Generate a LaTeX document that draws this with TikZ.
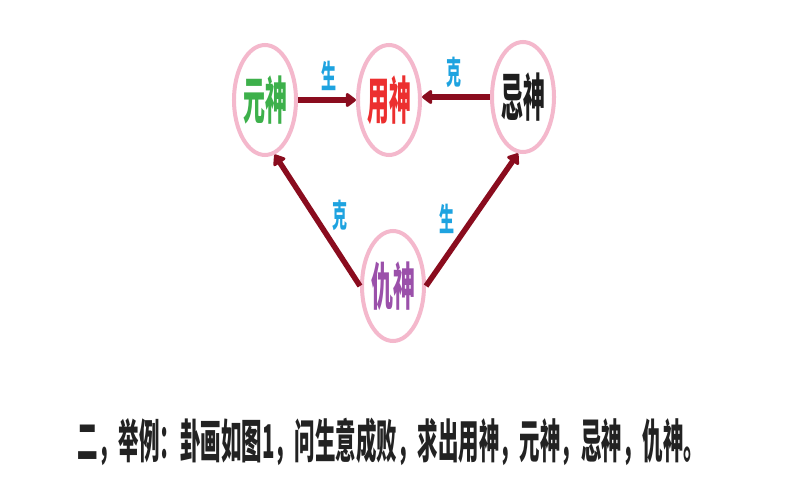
\documentclass[tikz,border=0pt]{standalone}
\usepackage{fontspec}
\usetikzlibrary{shapes.geometric,arrows.meta}
\newfontfamily\cjknode[FakeStretch=0.43]{Noto Sans CJK SC}
\newfontfamily\cjklab[FakeStretch=0.47]{Noto Sans CJK SC}
\newfontfamily\cjkbot[FakeStretch=0.44]{Noto Sans CJK SC}
\definecolor{ringpink}{HTML}{F4B8CC}
\definecolor{arrred}{HTML}{8A0C1E}
\definecolor{labblue}{HTML}{1EA3E0}
\definecolor{yuangreen}{HTML}{3DB04B}
\definecolor{yongred}{HTML}{EC2F2F}
\definecolor{jiblack}{HTML}{1E1E1E}
\definecolor{choupurple}{HTML}{9B50AA}
\definecolor{bottext}{HTML}{222222}
\begin{document}
\begin{tikzpicture}[x=1pt,y=-1pt,
  god/.style={ellipse,draw=ringpink,line width=4pt,fill=white,inner sep=0pt,
    minimum width=58pt,minimum height=110pt,
    font=\cjknode\bfseries\fontsize{51}{51}\selectfont},
  arr/.style={draw=arrred,line width=5.5pt,-{Triangle[length=11pt,width=16pt,round]}},
  lab/.style={text=labblue,font=\cjklab\bfseries\fontsize{32}{32}\selectfont,inner sep=0pt},
  bot/.style={text=bottext,font=\cjkbot\bfseries\fontsize{46.5}{46.5}\selectfont,inner sep=0pt}]
\useasboundingbox[fill=white] (0,0) rectangle (800,500);
\node[god,text=yuangreen] (yuan) at (265,100) {元神};
\node[god,text=yongred] (yong) at (389,100) {用神};
\node[god,text=jiblack] (ji) at (523,97) {忌神};
\node[god,text=choupurple] (chou) at (393,286) {仇神};
\draw[arr] (yuan.east) -- (yong.west);
\draw[arr] (ji.west) -- (ji.west -| yong.east);
\draw[arr] (chou.west) -- (yuan.-80);
\draw[arr] (chou.east) -- (ji.-95);
\node[lab] (l1) at (329,76) {生};
\node[lab] (l2) at (454,72) {克};
\node[lab] (l3) at (340,215) {克};
\node[lab] (l4) at (447,219) {生};
\node[bot] (cap) at (391,442) {二，举例：卦画如图1，问生意成败，求出用神，元神，忌神，仇神。};
\end{tikzpicture}
\end{document}
